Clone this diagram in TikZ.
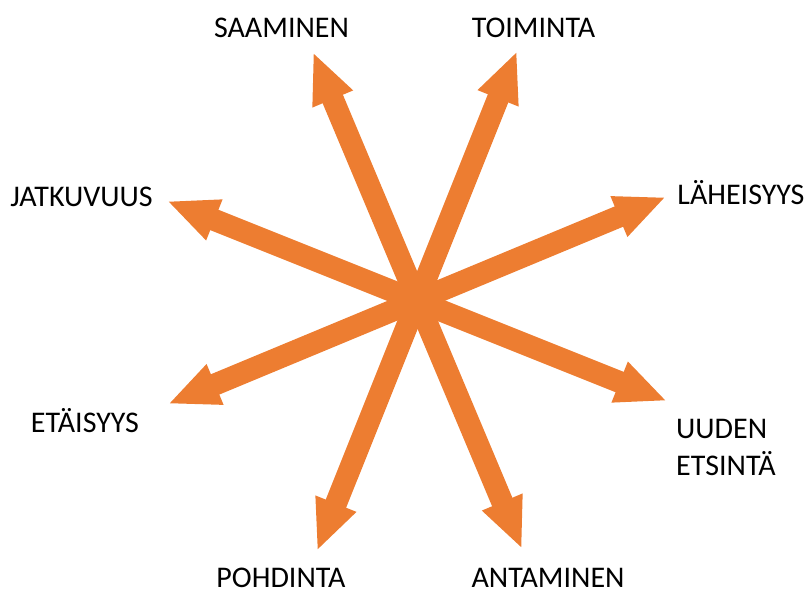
\documentclass[tikz,border=0pt]{standalone}
\usepackage{fontspec}
\setmainfont{Carlito}
\usetikzlibrary{arrows.meta}
\definecolor{arroworange}{HTML}{ED7D31}
\tikzset{
  bigarrow/.style={draw=arroworange, line width=22pt, line cap=butt,
    {Triangle[width=40pt,length=51pt]}-{Triangle[width=40pt,length=51pt]}},
  lbl/.style={inner sep=0pt, font=\fontsize{30}{37}\selectfont, text=black},
}
\begin{document}
\begin{tikzpicture}[x=1pt,y=-1pt]
\useasboundingbox (0,0) rectangle (807,591);
\coordinate (c) at (417,300);
\coordinate (tSaa) at (313,52);
\coordinate (tToi) at (517,51);
\coordinate (tJat) at (167,201);
\coordinate (tLah) at (666,197);
\coordinate (tEta) at (168,404);
\coordinate (tUud) at (667,401);
\coordinate (tPoh) at (317,551);
\coordinate (tAnt) at (522,549);
\draw[bigarrow] (tSaa) -- (tAnt);
\draw[bigarrow] (tToi) -- (tPoh);
\draw[bigarrow] (tJat) -- (tUud);
\draw[bigarrow] (tLah) -- (tEta);
\node[lbl, anchor=base] (lSaa) at (281.5,38) {SAAMINEN};
\node[lbl, anchor=base] (lToi) at (533.5,38) {TOIMINTA};
\node[lbl, anchor=base] (lJat) at (81.5,207) {JATKUVUUS};
\node[lbl, anchor=base] (lLah) at (741,205) {LÄHEISYYS};
\node[lbl, anchor=base] (lEta) at (85,432) {ETÄISYYS};
\node[lbl, anchor=north west, align=left] (lUud) at (676,419) {UUDEN\\ETSINTÄ};
\node[lbl, anchor=base] (lPoh) at (281,587) {POHDINTA};
\node[lbl, anchor=base] (lAnt) at (548,587) {ANTAMINEN};
\end{tikzpicture}
\end{document}
